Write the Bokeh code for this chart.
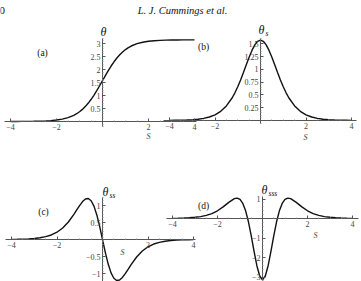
from bokeh.plotting import figure
from bokeh.models import Range1d, LinearAxis, FixedTicker, Label
from bokeh.embed import file_html
from bokeh.resources import INLINE

# ---------------- data ----------------
S = [-4, -3.75, -3.5, -3.25, -3, -2.75, -2.5, -2.25, -2, -1.75, -1.5, -1.25,
     -1.125, -1, -0.875, -0.75, -0.625, -0.5, -0.375, -0.25, -0.125, 0,
     0.125, 0.25, 0.375, 0.5, 0.625, 0.75, 0.875, 1, 1.125, 1.25, 1.5, 1.75,
     2, 2.25, 2.5, 2.75, 3, 3.25, 3.5, 3.75, 4]

THETA = [0.001, 0.002, 0.003, 0.005, 0.008, 0.013, 0.021, 0.035, 0.057, 0.092,
         0.149, 0.239, 0.299, 0.375, 0.465, 0.573, 0.700, 0.845, 1.008, 1.186,
         1.375, 1.571, 1.766, 1.956, 2.134, 2.297, 2.442, 2.569, 2.676, 2.767,
         2.843, 2.903, 2.993, 3.050, 3.085, 3.107, 3.121, 3.129, 3.134, 3.137,
         3.139, 3.140, 3.141]

THETA_S = [0.002, 0.004, 0.006, 0.009, 0.016, 0.025, 0.042, 0.068, 0.111, 0.179,
           0.284, 0.440, 0.541, 0.660, 0.792, 0.937, 1.088, 1.235, 1.369, 1.477,
           1.547, 1.571, 1.547, 1.477, 1.369, 1.235, 1.088, 0.937, 0.792, 0.660,
           0.541, 0.440, 0.284, 0.179, 0.111, 0.068, 0.042, 0.025, 0.016, 0.009,
           0.006, 0.004, 0.002]

THETA_SS = [0.004, 0.007, 0.011, 0.019, 0.031, 0.050, 0.083, 0.133, 0.214, 0.337,
            0.514, 0.747, 0.876, 1.005, 1.115, 1.190, 1.207, 1.141, 0.981, 0.723,
            0.385, 0.0, -0.385, -0.723, -0.981, -1.141, -1.207, -1.190, -1.115,
            -1.005, -0.876, -0.747, -0.514, -0.337, -0.214, -0.133, -0.083,
            -0.050, -0.031, -0.019, -0.011, -0.007, -0.004]

THETA_SSS = [0.008, 0.014, 0.023, 0.037, 0.061, 0.098, 0.161, 0.254, 0.397, 0.594,
             0.828, 1.020, 1.046, 0.977, 0.771, 0.394, -0.168, -0.888, -1.683,
             -2.422, -2.950, -3.142, -2.950, -2.422, -1.683, -0.888, -0.168, 0.394,
             0.771, 0.977, 1.046, 1.020, 0.828, 0.594, 0.397, 0.254, 0.161, 0.098,
             0.061, 0.037, 0.023, 0.014, 0.008]

X_TICKS = [-4, -2, 2, 4]
X_TICK_LABELS = ["\u22124", "\u22122", "2", "4"]
A_Y_TICKS = [0.5, 1, 1.5, 2, 2.5, 3]
A_Y_LABELS = ["0.5", "1", "1.5", "2", "2.5", "3"]
B_Y_TICKS = [0.25, 0.5, 0.75, 1, 1.25, 1.5]
B_Y_LABELS = ["0.25", "0.5", "0.75", "1", "1.25", "1.5"]
C_Y_TICKS = [-1, -0.5, 0.5, 1]
C_Y_LABELS = ["\u22121", "\u22120.5", "0.5", "1"]
D_Y_TICKS = [-3, -2, -1, 1]
D_Y_LABELS = ["\u22123", "\u22122", "\u22121", "1"]

PANEL_TAGS = ["(a)", "(b)", "(c)", "(d)"]
SUBSCRIPTS = ["", "s", "ss", "sss"]
HEADER = "L. J. Cummings et al."
PAGE = "0"

# ---------------- layout ----------------
W, H = 361, 281
SERIF = "Liberation Serif"
INK = "#111111"
GREY = "#444444"
AXIS = "#555555"
MINOR = "#999999"

p = figure(width=W, height=H, x_range=Range1d(0, W), y_range=Range1d(H, 0),
           min_border=0, toolbar_location=None, output_backend="svg",
           x_axis_type=None, y_axis_type=None, outline_line_color=None,
           background_fill_color="white", border_fill_color="white")


def xspan(origin, scale):
    return Range1d(start=-origin / scale, end=(W - origin) / scale)


def yspan(origin, scale):
    return Range1d(start=(origin - H) / scale, end=origin / scale)


def minor(lo, hi, step, majors):
    out = []
    v = lo
    while v <= hi + 1e-9:
        r = round(v, 4)
        if all(abs(r - m) > 1e-6 for m in majors) and abs(r) > 1e-6:
            out.append(r)
        v += step
    return out


panels = [
    ("a", 102, 23.0, 121, 26.0, THETA, A_Y_TICKS, A_Y_LABELS, (-4.25, 4.1), (-0.2, 3.2), 0.1),
    ("b", 260, 22.75, 120, 51.2, THETA_S, B_Y_TICKS, B_Y_LABELS, (-4.25, 4.2), (-0.05, 1.6), 0.05),
    ("c", 102, 22.75, 239, 34.0, THETA_SS, C_Y_TICKS, C_Y_LABELS, (-4.25, 4.1), (-1.25, 1.25), 0.1),
    ("d", 262, 22.5, 218, 19.5, THETA_SSS, D_Y_TICKS, D_Y_LABELS, (-4.25, 4.25), (-3.2, 1.15), 0.2),
]

for (name, x0, kx, y0, ky, vals, yt, yl, xb, yb, ystep) in panels:
    p.extra_x_ranges[name] = xspan(x0, kx)
    p.extra_y_ranges[name] = yspan(y0, ky)

    common = dict(x_range_name=name, y_range_name=name, fixed_location=0,
                  axis_line_color=AXIS, axis_line_width=1,
                  major_tick_line_color=AXIS, minor_tick_line_color=MINOR,
                  major_tick_in=3, major_tick_out=0, minor_tick_in=1, minor_tick_out=0,
                  major_label_standoff=2, major_label_text_font=SERIF,
                  major_label_text_font_size="8px", major_label_text_color=GREY)

    xa = LinearAxis(bounds=xb,
                    ticker=FixedTicker(ticks=X_TICKS, minor_ticks=minor(-4, 4, 0.5, X_TICKS)),
                    major_label_overrides=dict(zip(X_TICKS, X_TICK_LABELS)), **common)
    p.add_layout(xa, "below")

    ya = LinearAxis(bounds=yb,
                    ticker=FixedTicker(ticks=yt, minor_ticks=minor(yb[0], yb[1], ystep, yt)),
                    major_label_overrides=dict(zip(yt, yl)),
                    major_label_orientation="horizontal", **common)
    p.add_layout(ya, "left")

    p.line(S, vals, x_range_name=name, y_range_name=name,
           line_color=INK, line_width=1.4)

# ---------------- texts (pixel coordinates of the page) ----------------
def lab(x, y, text, size, style="normal", color=INK, align="center"):
    p.add_layout(Label(x=x, y=y, text=text, text_font=SERIF, text_font_size=size,
                       text_font_style=style, text_color=color, text_align=align,
                       text_baseline="middle"))

lab(-1, 10, PAGE, "11px", align="left")
lab(182, 10, HEADER, "10.5px", style="italic")

tag_pos = [(42, 52), (203, 46), (43, 211), (203, 205)]
for (tx, ty), t in zip(tag_pos, PANEL_TAGS):
    lab(tx, ty, t, "9.5px")

theta_pos = [(103, 31), (261, 29), (105, 191), (264, 189)]
for (tx, ty), sub in zip(theta_pos, SUBSCRIPTS):
    lab(tx, ty, "\u03b8", "12px", style="italic")
    if sub:
        lab(tx + 4, ty + 4, sub, "7.5px", style="italic", align="left")

s_pos = [(148, 136), (305, 137), (122, 252), (315, 235)]
for (tx, ty) in s_pos:
    lab(tx, ty, "S", "8px", style="italic", color=GREY)

open("out.html", "w").write(file_html(p, INLINE))
